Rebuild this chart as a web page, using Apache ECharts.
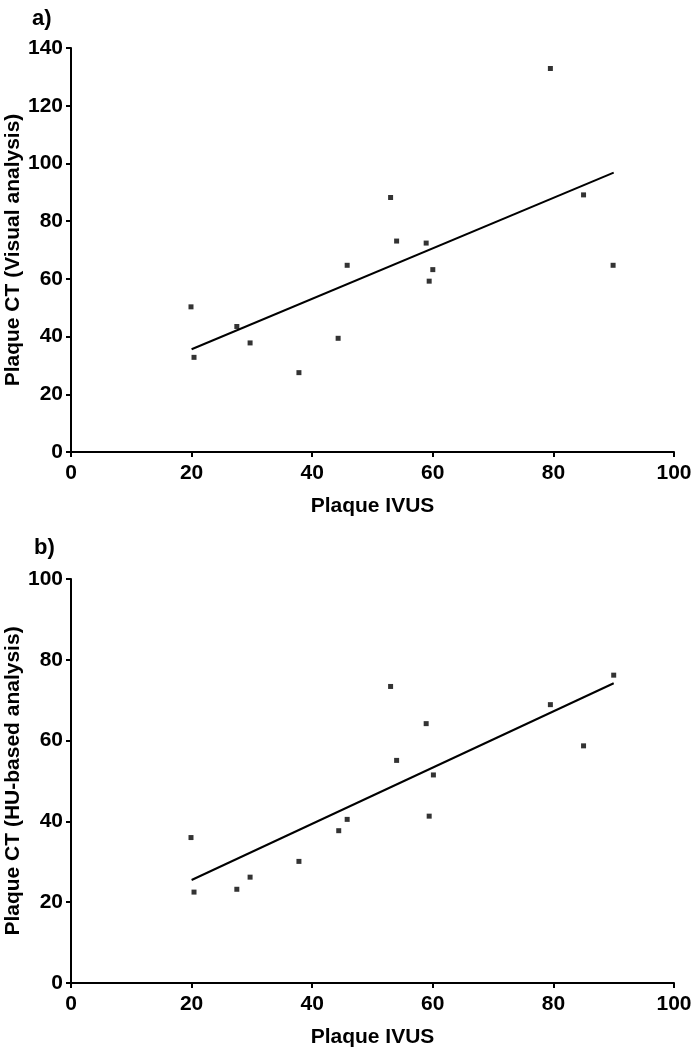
<!DOCTYPE html>
<html>
<head>
<meta charset="utf-8">
<script src="https://cdn.jsdelivr.net/npm/echarts@6/dist/echarts.min.js"></script>
<style>
html,body{margin:0;padding:0;background:#fff;}
#chart{width:693px;height:1050px;}
</style>
</head>
<body>
<div id="chart"></div>
<script>
// Panel a: Plaque IVUS vs Plaque CT (Visual analysis)
const ivusA = [19.9, 20.4, 27.5, 29.7, 37.8, 44.3, 45.8, 53.0, 54.0, 58.9, 59.4, 60.0, 79.5, 85.0, 89.9];
const ctVisual = [50.3, 32.8, 43.5, 37.8, 27.5, 39.4, 64.7, 88.2, 73.1, 72.4, 59.2, 63.2, 132.9, 89.1, 64.7];
const fitXA = [20, 90];
const fitYA = [35.6, 96.8];

// Panel b: Plaque IVUS vs Plaque CT (HU-based analysis)
const ivusB = [19.9, 20.4, 27.5, 29.7, 37.8, 44.4, 45.8, 53.0, 54.0, 58.9, 59.4, 60.1, 79.5, 85.0, 90.0];
const ctHU = [36.0, 22.5, 23.2, 26.2, 30.1, 37.7, 40.5, 73.4, 55.1, 64.2, 41.3, 51.5, 68.9, 58.7, 76.2];
const fitXB = [20, 90];
const fitYB = [25.5, 74.2];

const xTicks = [0, 20, 40, 60, 80, 100];
const yTicksA = [0, 20, 40, 60, 80, 100, 120, 140];
const yTicksB = [0, 20, 40, 60, 80, 100];

const xTitle = 'Plaque IVUS';
const yTitleA = 'Plaque CT (Visual analysis)';
const yTitleB = 'Plaque CT (HU-based analysis)';
const panelLabels = ['a)', 'b)'];

const FONT = '"Liberation Sans", Arial, sans-serif';
const zip = (xs, ys) => xs.map((x, i) => [x, ys[i]]);

const axisCommon = {
  axisLine: {show: true, onZero: false, lineStyle: {color: '#000', width: 2}},
  axisTick: {show: true, length: 5, lineStyle: {color: '#000', width: 2}},
  splitLine: {show: false},
  nameMoveOverlap: false,
  nameTextStyle: {color: '#000', fontFamily: FONT, fontWeight: 'bold', fontSize: 21}
};

function xAxis(gi) {
  return Object.assign({}, axisCommon, {
    type: 'value', gridIndex: gi,
    min: xTicks[0], max: xTicks[xTicks.length - 1], interval: xTicks[1] - xTicks[0],
    name: xTitle, nameLocation: 'middle', nameGap: 44,
    axisLabel: {color: '#000', fontFamily: FONT, fontWeight: 'bold', fontSize: 21, margin: 11}
  });
}
function yAxis(gi, ticks, title) {
  return Object.assign({}, axisCommon, {
    type: 'value', gridIndex: gi,
    min: ticks[0], max: ticks[ticks.length - 1], interval: ticks[1] - ticks[0],
    name: title, nameLocation: 'middle', nameGap: 47,
    axisLabel: {color: '#000', fontFamily: FONT, fontWeight: 'bold', fontSize: 21, margin: 8}
  });
}

const scatterStyle = {symbol: 'rect', symbolSize: 5, itemStyle: {color: '#000'}};
const lineStyle = {showSymbol: false, symbol: 'none', lineStyle: {color: '#000', width: 2}, silent: true};

const option = {
  backgroundColor: '#fff',
  animation: false,
  title: [
    {text: panelLabels[0], left: 27, top: 3, textStyle: {color: '#000', fontFamily: FONT, fontWeight: 'bold', fontSize: 22}},
    {text: panelLabels[1], left: 29, top: 532, textStyle: {color: '#000', fontFamily: FONT, fontWeight: 'bold', fontSize: 22}}
  ],
  grid: [
    {left: 71, right: 19, top: 48, height: 404, outerBoundsMode: 'none', containLabel: false},
    {left: 71, right: 19, top: 579, height: 404, outerBoundsMode: 'none', containLabel: false}
  ],
  xAxis: [xAxis(0), xAxis(1)],
  yAxis: [yAxis(0, yTicksA, yTitleA), yAxis(1, yTicksB, yTitleB)],
  series: [
    Object.assign({type: 'scatter', xAxisIndex: 0, yAxisIndex: 0, data: zip(ivusA, ctVisual)}, scatterStyle),
    Object.assign({type: 'line', xAxisIndex: 0, yAxisIndex: 0, data: zip(fitXA, fitYA)}, lineStyle),
    Object.assign({type: 'scatter', xAxisIndex: 1, yAxisIndex: 1, data: zip(ivusB, ctHU)}, scatterStyle),
    Object.assign({type: 'line', xAxisIndex: 1, yAxisIndex: 1, data: zip(fitXB, fitYB)}, lineStyle)
  ]
};

const chart = echarts.init(document.getElementById('chart'), null, {renderer: 'canvas'});
chart.setOption(option);
</script>
</body>
</html>
